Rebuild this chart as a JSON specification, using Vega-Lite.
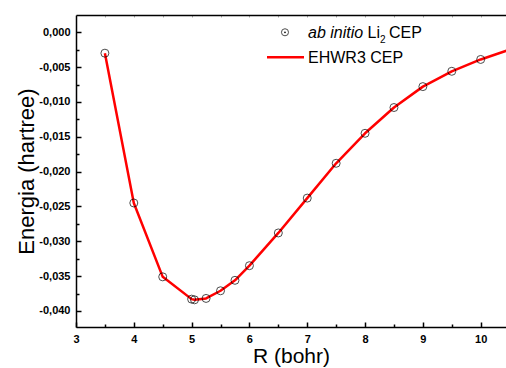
{
  "$schema": "https://vega.github.io/schema/vega-lite/v6.json",
  "width": 430,
  "height": 312,
  "autosize": {"type": "none"},
  "padding": {"left": 76, "top": 15, "right": 0, "bottom": 41},
  "background": "white",
  "config": {
    "view": {"stroke": null},
    "font": "Liberation Sans",
    "axis": {"grid": false, "domainColor": "black", "tickColor": "black", "labelColor": "black", "titleColor": "black"}
  },
  "datasets": {
    "abinitio": [
      {"R": 3.5, "E": -0.0030},
      {"R": 4.0, "E": -0.0245},
      {"R": 4.5, "E": -0.0351},
      {"R": 5.0, "E": -0.0383},
      {"R": 5.05, "E": -0.0384},
      {"R": 5.25, "E": -0.0382},
      {"R": 5.5, "E": -0.0371},
      {"R": 5.75, "E": -0.0356},
      {"R": 6.0, "E": -0.0335},
      {"R": 6.5, "E": -0.0288},
      {"R": 7.0, "E": -0.0238},
      {"R": 7.5, "E": -0.0188},
      {"R": 8.0, "E": -0.0145},
      {"R": 8.5, "E": -0.0108},
      {"R": 9.0, "E": -0.0078},
      {"R": 9.5, "E": -0.0056},
      {"R": 10.0, "E": -0.0039}
    ],
    "ehwr3": [
      {"R": 3.5, "E": -0.0030},
      {"R": 4.0, "E": -0.0245},
      {"R": 4.5, "E": -0.0351},
      {"R": 5.0, "E": -0.0383},
      {"R": 5.05, "E": -0.0384},
      {"R": 5.25, "E": -0.0382},
      {"R": 5.5, "E": -0.0371},
      {"R": 5.75, "E": -0.0356},
      {"R": 6.0, "E": -0.0335},
      {"R": 6.5, "E": -0.0288},
      {"R": 7.0, "E": -0.0238},
      {"R": 7.5, "E": -0.0188},
      {"R": 8.0, "E": -0.0145},
      {"R": 8.5, "E": -0.0108},
      {"R": 9.0, "E": -0.0078},
      {"R": 9.5, "E": -0.0056},
      {"R": 10.0, "E": -0.0039},
      {"R": 10.5, "E": -0.0025}
    ]
  },
  "resolve": {"axis": {"x": "independent", "y": "independent"}},
  "layer": [
    {
      "data": {"name": "ehwr3"},
      "mark": {"type": "line", "color": "#ff0000", "strokeWidth": 2.5, "interpolate": "linear", "strokeJoin": "round", "clip": true},
      "encoding": {
        "x": {
          "field": "R", "type": "quantitative",
          "scale": {"domain": [3, 10.438], "nice": false, "zero": false},
          "axis": {
            "orient": "bottom",
            "values": [3, 4, 5, 6, 7, 8, 9, 10],
            "title": "R (bohr)", "titleFontSize": 21, "titleFontWeight": "normal",
            "titleY": 35, "titleBaseline": "alphabetic",
            "domainWidth": 1.5, "tickWidth": 1.5, "tickSize": -5,
            "labelFontSize": 11, "labelFontWeight": "bold", "labelPadding": 11,
            "labelFlush": false, "labelOverlap": false
          }
        },
        "y": {
          "field": "E", "type": "quantitative",
          "scale": {"domain": [-0.0423, 0.00248], "nice": false, "zero": false},
          "axis": {
            "orient": "left",
            "values": [0, -0.005, -0.01, -0.015, -0.02, -0.025, -0.03, -0.035, -0.04],
            "labelExpr": "replace(replace(format(datum.value, '.3f'), '.', ','), '\u2212', '-')",
            "title": "Energia (hartree)", "titleFontSize": 22, "titleFontWeight": "normal",
            "titleX": -43, "titleY": 156, "titleBaseline": "alphabetic", "titleAngle": -90,
            "domainWidth": 1.5, "tickWidth": 1.5, "tickSize": -5,
            "labelFontSize": 11, "labelFontWeight": "bold", "labelPadding": 11,
            "labelFlush": false, "labelOverlap": false
          }
        }
      }
    },
    {
      "data": {"name": "abinitio"},
      "mark": {"type": "point", "shape": "circle", "filled": false, "stroke": "black", "strokeWidth": 1, "size": 64},
      "encoding": {
        "x": {
          "field": "R", "type": "quantitative",
          "axis": {
            "orient": "bottom", "values": [3.5, 4.5, 5.5, 6.5, 7.5, 8.5, 9.5],
            "labels": false, "domain": false, "title": null,
            "tickWidth": 1.5, "tickSize": -3
          }
        },
        "y": {
          "field": "E", "type": "quantitative",
          "axis": {
            "orient": "left", "values": [-0.0025, -0.0075, -0.0125, -0.0175, -0.0225, -0.0275, -0.0325, -0.0375],
            "labels": false, "domain": false, "title": null,
            "tickWidth": 1.5, "tickSize": -3
          }
        }
      }
    },
    {
      "data": {"values": [{"s": "EHWR3 CEP"}]},
      "mark": {"type": "rule", "color": "#ff0000", "strokeWidth": 2.5},
      "encoding": {
        "x": {
          "datum": 6.304, "type": "quantitative",
          "axis": {
            "orient": "top", "values": [3.5, 4, 4.5, 5, 5.5, 6, 6.5, 7, 7.5, 8, 8.5, 9, 9.5, 10],
            "labels": false, "title": null, "domainWidth": 1.5,
            "tickColor": "#aaaaaa", "tickWidth": 1, "tickSize": -2
          }
        },
        "x2": {"datum": 6.944},
        "y": {"datum": -0.00359, "type": "quantitative", "axis": null}
      }
    },
    {
      "data": {"values": [{"s": "ab initio Li2 CEP"}]},
      "mark": {"type": "point", "shape": "circle", "filled": false, "stroke": "black", "strokeWidth": 1, "size": 50},
      "encoding": {
        "x": {"datum": 6.615, "type": "quantitative", "axis": null},
        "y": {"datum": 0.0, "type": "quantitative", "axis": null}
      }
    },
    {
      "data": {"values": [{"s": "ab initio Li2 CEP"}]},
      "mark": {"type": "point", "shape": "circle", "filled": true, "color": "black", "opacity": 1, "size": 3},
      "encoding": {
        "x": {"datum": 6.615, "type": "quantitative", "axis": null},
        "y": {"datum": 0.0, "type": "quantitative", "axis": null}
      }
    },
    {
      "data": {"values": [{"t": "ab initio"}]},
      "mark": {"type": "text", "align": "left", "baseline": "alphabetic", "dy": 5.4, "fontSize": 16, "fontStyle": "italic", "color": "black"},
      "encoding": {
        "x": {"datum": 7.013, "type": "quantitative", "axis": null},
        "y": {"datum": 0.0, "type": "quantitative", "axis": null},
        "text": {"field": "t"}
      }
    },
    {
      "data": {"values": [{"t": "Li"}]},
      "mark": {"type": "text", "align": "left", "baseline": "alphabetic", "dx": 59.5, "dy": 5.4, "fontSize": 16, "color": "black"},
      "encoding": {
        "x": {"datum": 7.013, "type": "quantitative", "axis": null},
        "y": {"datum": 0.0, "type": "quantitative", "axis": null},
        "text": {"field": "t"}
      }
    },
    {
      "data": {"values": [{"t": "2"}]},
      "mark": {"type": "text", "align": "left", "baseline": "alphabetic", "dx": 72, "dy": 10.8, "fontSize": 10, "color": "black"},
      "encoding": {
        "x": {"datum": 7.013, "type": "quantitative", "axis": null},
        "y": {"datum": 0.0, "type": "quantitative", "axis": null},
        "text": {"field": "t"}
      }
    },
    {
      "data": {"values": [{"t": "CEP"}]},
      "mark": {"type": "text", "align": "left", "baseline": "alphabetic", "dx": 81, "dy": 5.4, "fontSize": 16, "color": "black"},
      "encoding": {
        "x": {"datum": 7.013, "type": "quantitative", "axis": null},
        "y": {"datum": 0.0, "type": "quantitative", "axis": null},
        "text": {"field": "t"}
      }
    },
    {
      "data": {"values": [{"t": "EHWR3 CEP"}]},
      "mark": {"type": "text", "align": "left", "baseline": "alphabetic", "dy": 6, "fontSize": 16, "color": "black"},
      "encoding": {
        "x": {"datum": 7.013, "type": "quantitative", "axis": null},
        "y": {"datum": -0.00359, "type": "quantitative", "axis": null},
        "text": {"field": "t"}
      }
    }
  ]
}
